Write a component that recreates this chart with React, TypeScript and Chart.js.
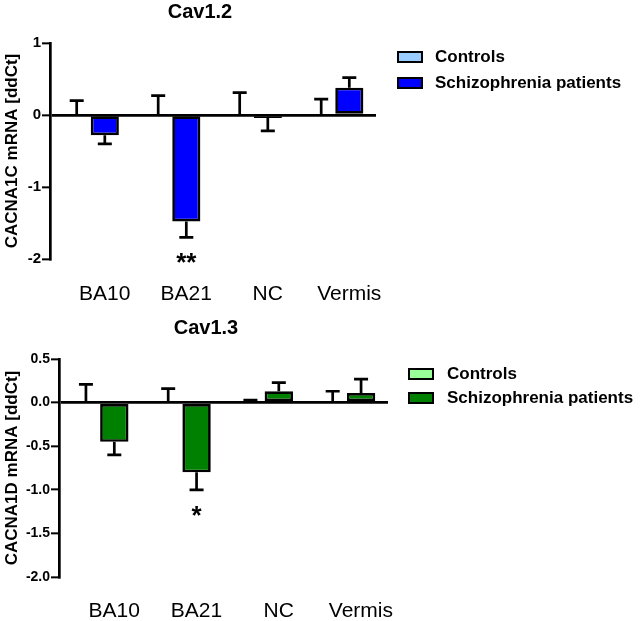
import React, { useEffect, useRef } from "react";
import { Chart, registerables } from "chart.js";

Chart.register(...registerables);

const FONT = '"Liberation Sans", Arial, Helvetica, sans-serif';

const categories = ["BA10", "BA21", "NC", "Vermis"];

// Cav1.2 (CACNA1C)
const cav12Controls = [0, 0, 0, 0];
const cav12ControlsErr = [0.2, 0.27, 0.31, 0.22];
const cav12Patients = [-0.28, -1.48, -0.04, 0.38];
const cav12PatientsErr = [0.12, 0.22, 0.18, 0.14];
const cav12Stars = ["", "**", "", ""];

// Cav1.3 (CACNA1D)
const cav13Controls = [0, 0, 0, 0];
const cav13ControlsErr = [0.21, 0.16, 0.03, 0.13];
const cav13Patients = [-0.45, -0.8, 0.13, 0.11];
const cav13PatientsErr = [0.15, 0.2, 0.1, 0.16];
const cav13Stars = ["", "*", "", ""];

const errorBarPlugin = {
  id: "errorBars",
  afterDatasetsDraw(chart: any) {
    const ctx = chart.ctx;
    const yScale = chart.scales.y;
    chart.data.datasets.forEach((ds: any, di: number) => {
      const meta = chart.getDatasetMeta(di);
      meta.data.forEach((bar: any, i: number) => {
        const v = ds.data[i];
        const e = ds.errors[i];
        const end = v >= 0 ? v + e : v - e;
        const y0 = yScale.getPixelForValue(v);
        const y1 = yScale.getPixelForValue(end);
        ctx.save();
        ctx.strokeStyle = "#000";
        ctx.lineWidth = 2.7;
        ctx.beginPath();
        ctx.moveTo(bar.x, y0);
        ctx.lineTo(bar.x, y1);
        ctx.moveTo(bar.x - 7, y1);
        ctx.lineTo(bar.x + 7, y1);
        ctx.stroke();
        const star = ds.stars ? ds.stars[i] : "";
        if (star) {
          ctx.fillStyle = "#000";
          ctx.font = `bold 26px ${FONT}`;
          ctx.textAlign = "center";
          ctx.textBaseline = "alphabetic";
          ctx.fillText(star, bar.x, y1 + 34);
        }
        ctx.restore();
      });
    });
  },
};

type PanelProps = {
  title: string;
  yTitle: string;
  controls: number[];
  controlsErr: number[];
  patients: number[];
  patientsErr: number[];
  stars: string[];
  lightColor: string;
  darkColor: string;
  min: number;
  max: number;
  step: number;
  decimals: number;
  tickSize: number;
  width: number;
  height: number;
  titleTop: number;
  titleBottom: number;
  yWidth: number;
  xHeight: number;
  labelPad: number;
};

const LEFT_PAD = 24;
const RIGHT_PAD = 24;

function Panel(p: PanelProps) {
  const ref = useRef<HTMLCanvasElement>(null);
  useEffect(() => {
    const yTitleSize = 17;
    const yTitleLH = yTitleSize * 1.2;
    const chart = new Chart(ref.current as HTMLCanvasElement, {
      type: "bar",
      data: {
        labels: categories,
        datasets: [
          {
            label: "Controls",
            data: p.controls,
            errors: p.controlsErr,
            backgroundColor: p.lightColor,
            borderColor: "#000",
            borderWidth: 2.7,
            borderSkipped: false,
          } as any,
          {
            label: "Schizophrenia patients",
            data: p.patients,
            errors: p.patientsErr,
            stars: p.stars,
            backgroundColor: p.darkColor,
            borderColor: "#000",
            borderWidth: 2.7,
            borderSkipped: false,
          } as any,
        ],
      },
      options: {
        animation: false,
        responsive: false,
        maintainAspectRatio: false,
        datasets: { bar: { categoryPercentage: 0.69, barPercentage: 1 } },
        layout: { padding: { left: LEFT_PAD, right: RIGHT_PAD, top: 0, bottom: 0 } },
        plugins: {
          legend: { display: false },
          tooltip: { enabled: false },
          title: {
            display: true,
            text: p.title,
            color: "#000",
            font: { size: 20, weight: "bold", family: FONT, lineHeight: 1.2 },
            padding: { top: p.titleTop, bottom: p.titleBottom },
          },
        },
        scales: {
          x: {
            grid: { display: false, drawTicks: false },
            border: { display: false },
            ticks: {
              color: "#000",
              font: { size: 21, family: FONT },
              padding: p.labelPad,
              labelOffset: 14,
              maxRotation: 0,
              autoSkip: false,
            },
            afterFit: (s: any) => {
              s.height = p.xHeight;
            },
          },
          y: {
            min: p.min,
            max: p.max,
            ticks: {
              stepSize: p.step,
              color: "#000",
              font: { size: p.tickSize, weight: "bold", family: FONT },
              padding: 1,
              callback: (v: any) => Number(v).toFixed(p.decimals),
            },
            grid: {
              drawOnChartArea: true,
              drawTicks: true,
              tickLength: 8,
              tickColor: "#000",
              tickWidth: 2,
              lineWidth: 2.7,
              color: (c: any) =>
                c.tick && Math.abs(c.tick.value) < 1e-9 ? "#000" : "rgba(0,0,0,0)",
            },
            border: { display: true, color: "#000", width: 2.7 },
            title: {
              display: true,
              text: p.yTitle,
              color: "#000",
              font: { size: yTitleSize, weight: "bold", family: FONT, lineHeight: 1.2 },
              padding: { top: 12 - LEFT_PAD - yTitleLH / 2, bottom: 0 },
            },
            afterFit: (s: any) => {
              s.width = p.yWidth - LEFT_PAD;
            },
          },
        },
      } as any,
      plugins: [errorBarPlugin],
    });
    return () => chart.destroy();
  }, []);
  return <canvas ref={ref} width={p.width} height={p.height} style={{ display: "block", width: p.width, height: p.height }} />;
}

function LegendRow(props: { left: number; top: number; color: string; text: string; textLeft: number }) {
  return (
    <>
      <div
        style={{
          position: "absolute",
          left: props.left,
          top: props.top,
          width: 26,
          height: 12,
          boxSizing: "border-box",
          border: "2px solid #000",
          background: props.color,
        }}
      />
      <div
        style={{
          position: "absolute",
          left: props.textLeft,
          top: props.top + 6 - 10,
          height: 20,
          lineHeight: "20px",
          fontFamily: FONT,
          fontWeight: "bold",
          fontSize: 17,
          color: "#000",
          whiteSpace: "nowrap",
        }}
      >
        {props.text}
      </div>
    </>
  );
}

export default function App() {
  return (
    <div style={{ position: "absolute", left: 0, top: 0, width: 641, height: 621, background: "#fff", overflow: "hidden" }}>
      <div style={{ position: "absolute", left: 0, top: 0 }}>
        <Panel
          title="Cav1.2"
          yTitle="CACNA1C mRNA [ddCt]"
          controls={cav12Controls}
          controlsErr={cav12ControlsErr}
          patients={cav12Patients}
          patientsErr={cav12PatientsErr}
          stars={cav12Stars}
          lightColor="#99CCFF"
          darkColor="#0000FF"
          min={-2}
          max={1}
          step={1}
          decimals={0}
          tickSize={15}
          width={400}
          height={310}
          titleTop={0}
          titleBottom={19}
          yWidth={50}
          xHeight={51}
          labelPad={23}
        />
      </div>
      <div style={{ position: "absolute", left: 0, top: 310 }}>
        <Panel
          title="Cav1.3"
          yTitle="CACNA1D mRNA [ddCt]"
          controls={cav13Controls}
          controlsErr={cav13ControlsErr}
          patients={cav13Patients}
          patientsErr={cav13PatientsErr}
          stars={cav13Stars}
          lightColor="#99FF99"
          darkColor="#008000"
          min={-2}
          max={0.5}
          step={0.5}
          decimals={1}
          tickSize={14}
          width={412}
          height={311}
          titleTop={6}
          titleBottom={19}
          yWidth={59}
          xHeight={44}
          labelPad={22}
        />
      </div>
      <LegendRow left={397} top={51} color="#99CCFF" text="Controls" textLeft={435} />
      <LegendRow left={397} top={77} color="#0000FF" text="Schizophrenia patients" textLeft={435} />
      <LegendRow left={408} top={368} color="#99FF99" text="Controls" textLeft={447} />
      <LegendRow left={408} top={392} color="#008000" text="Schizophrenia patients" textLeft={447} />
    </div>
  );
}
